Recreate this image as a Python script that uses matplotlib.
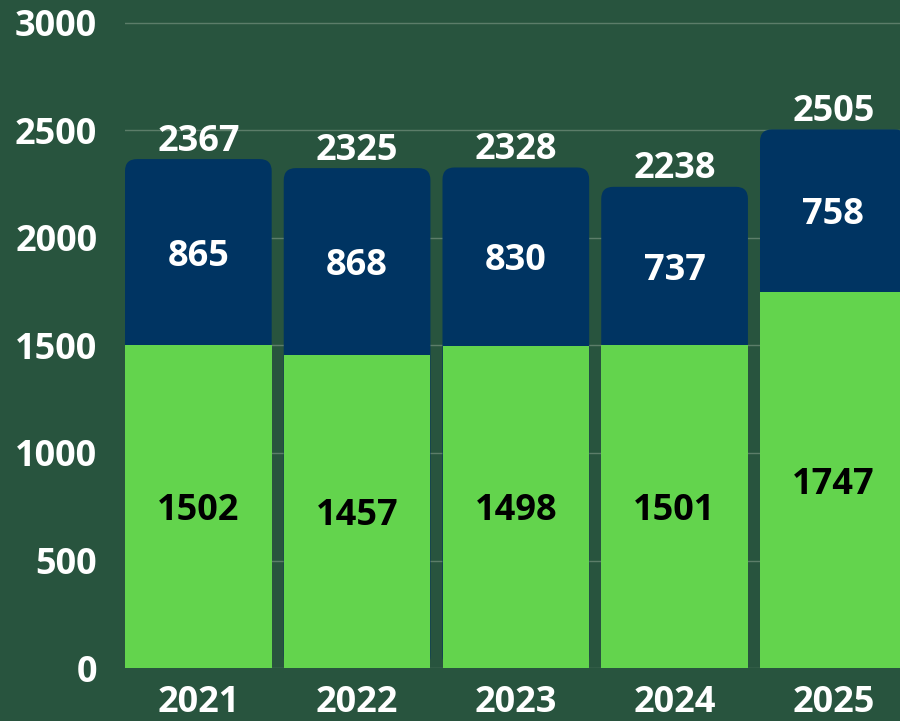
import numpy as np
import matplotlib
matplotlib.use("Agg")
import matplotlib.pyplot as plt
from matplotlib import font_manager
from matplotlib.patches import FancyBboxPatch

# Data
years = ["2021", "2022", "2023", "2024", "2025"]
green_vals = [1502, 1457, 1498, 1501, 1747]
navy_vals = [865, 868, 830, 737, 758]
totals = [2367, 2325, 2328, 2238, 2505]
y_ticks = [0, 500, 1000, 1500, 2000, 2500, 3000]

BG = "#28543e"
GREEN = "#63d44d"
NAVY = "#003462"
GRID = "#5c7d69"
FS = 26

# pick a family that has a bold face
bold = {f.name for f in font_manager.fontManager.ttflist if f.weight in (700, "bold")}
fam = "Open Sans" if "Open Sans" in bold else ("Noto Sans" if "Noto Sans" in bold else "DejaVu Sans")
plt.rcParams["font.family"] = [fam, "DejaVu Sans"]
plt.rcParams["font.weight"] = "bold"


def main():
    fig = plt.figure(figsize=(9, 7.21), dpi=100, facecolor=BG)
    ax = fig.add_axes([125 / 900, 53 / 721, 775 / 900, 663 / 721])
    ax.set_facecolor(BG)

    x = np.arange(len(years))
    width = 0.924

    # navy bars, drawn full height with rounded corners, green goes on top
    navy = ax.bar(x, navy_vals, width, bottom=green_vals, color=NAVY, zorder=2)
    rx = 12 / 158.75
    ry = 12 / 0.215
    for rect in navy:
        x0, w = rect.get_x(), rect.get_width()
        top = rect.get_y() + rect.get_height()
        rect.set_visible(False)
        fb = FancyBboxPatch((x0, 0), w, top,
                            boxstyle="round,pad=0,rounding_size=%f" % rx,
                            mutation_aspect=ry / rx,
                            fc=NAVY, ec="none", zorder=2)
        ax.add_patch(fb)
    ax.bar(x, green_vals, width, color=GREEN, zorder=3)

    # labels
    for i in range(len(years)):
        g = green_vals[i]
        n = navy_vals[i]
        ax.text(x[i], g / 2, str(g), ha="center", va="center_baseline",
                fontsize=FS, fontweight="bold", color="black", zorder=4)
        ax.text(x[i], g + n / 2, str(n), ha="center", va="center_baseline",
                fontsize=FS, fontweight="bold", color="white", zorder=4)
        ax.annotate(str(totals[i]), (x[i], g + n), xytext=(0, 6),
                    textcoords="offset points", ha="center", va="baseline",
                    fontsize=FS, fontweight="bold", color="white", zorder=4)

    ax.set_xlim(-width / 2, -width / 2 + 775 / 158.75)
    ax.set_ylim(0, 3000 + 18 / 0.215)
    ax.set_xticks(x)
    ax.set_xticklabels(years)
    ax.set_yticks(y_ticks)
    ax.set_yticklabels([str(v) for v in y_ticks])
    ax.tick_params(axis="x", length=0, pad=12, labelsize=FS, labelcolor="white")
    ax.tick_params(axis="y", length=0, pad=20, labelsize=FS, labelcolor="white")
    for lab in ax.get_xticklabels() + ax.get_yticklabels():
        lab.set_fontweight("bold")

    ax.grid(axis="y", color=GRID, linewidth=1, zorder=0)
    ax.set_axisbelow(True)
    for s in ax.spines.values():
        s.set_visible(False)

    fig.savefig("out.png", dpi=100, facecolor=BG)


if __name__ == "__main__":
    main()
